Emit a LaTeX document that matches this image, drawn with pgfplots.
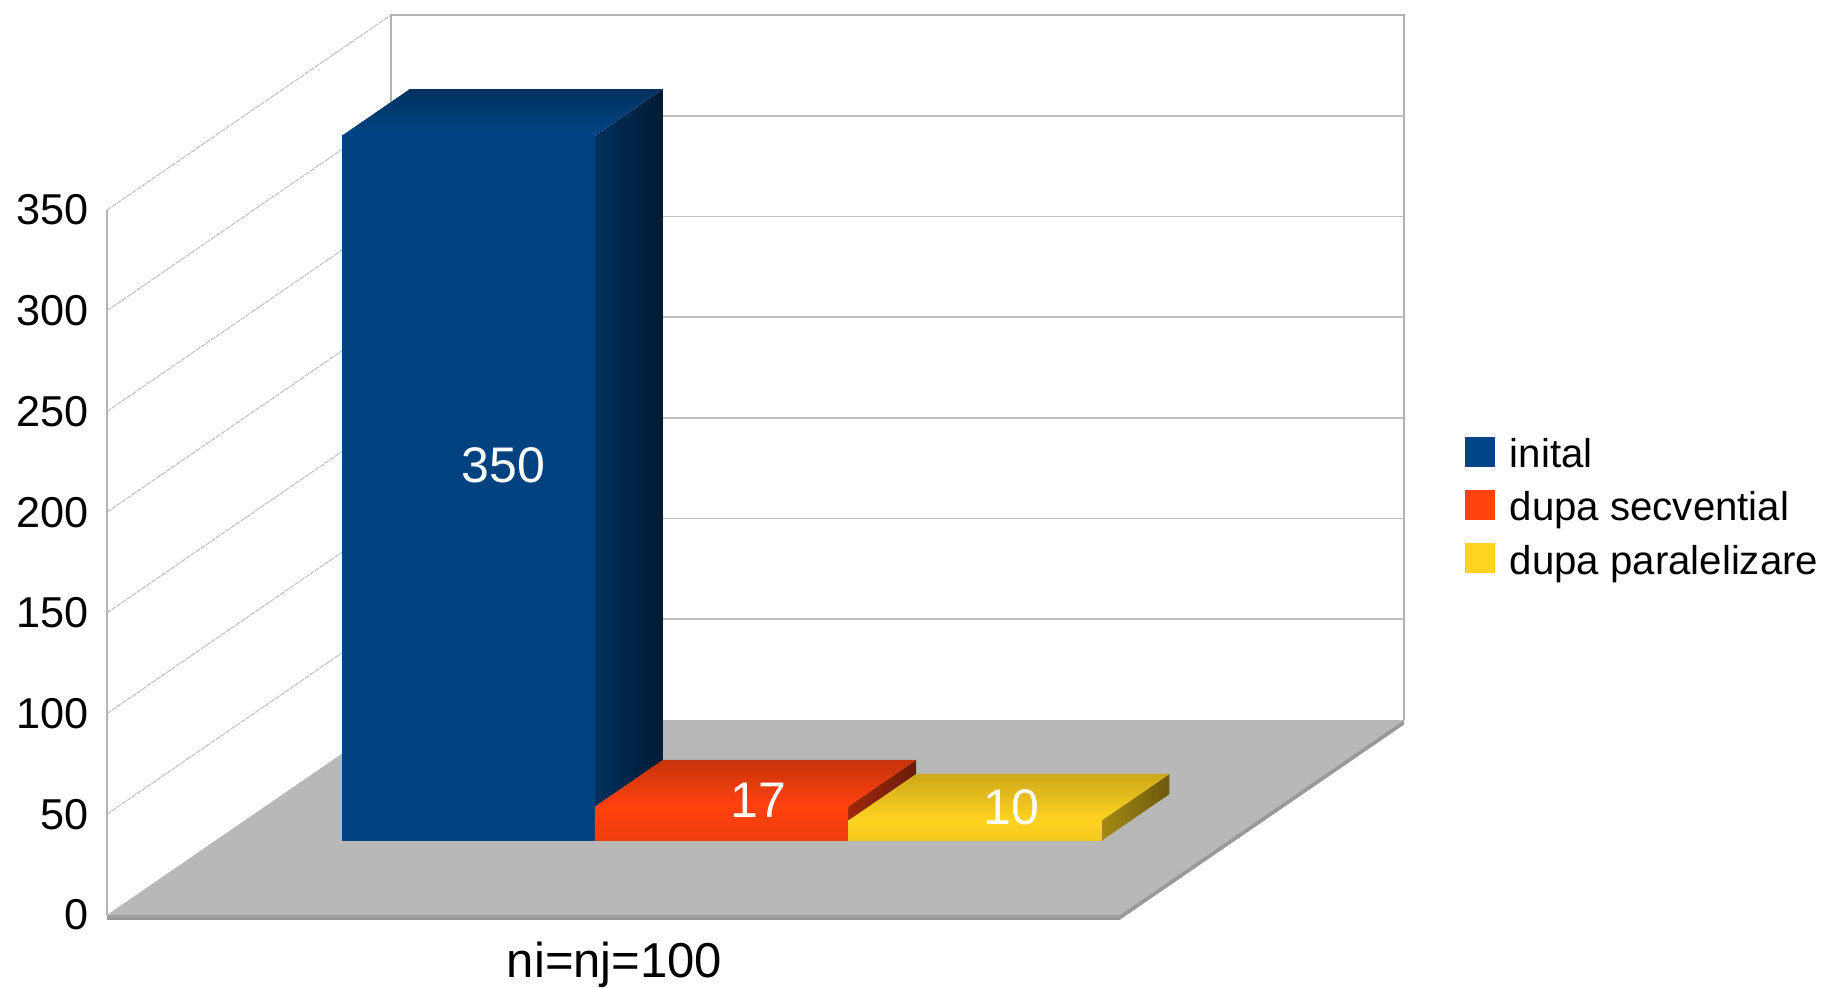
\documentclass[border=0pt]{standalone}
\usepackage{fontspec}
\setmainfont{Liberation Sans}
\usepackage{pgfplots}
\pgfplotsset{compat=1.18}
\definecolor{barblue}{HTML}{004586}
\definecolor{barred}{HTML}{FF420E}
\definecolor{baryellow}{HTML}{FFD320}
\definecolor{wallline}{HTML}{B3B3B3}
\definecolor{gridline}{HTML}{C0C0C0}
\definecolor{floorgray}{HTML}{B8B8B8}
\begin{document}
\begin{tikzpicture}
\useasboundingbox (0pt,0pt) rectangle (911.5pt,493.5pt);
\begin{axis}[
  at={(53.5pt,36pt)}, anchor=origin,
  x={(506.5pt,0pt)}, y={(142pt,97.5pt)}, z={(0pt,1.00714pt)},
  xmin=0, xmax=1, ymin=0, ymax=1, zmin=0, zmax=350,
  clip=false,
  axis line style={draw=none},
  tick style={draw=none},
  xtick={0.5}, xticklabels={ni=nj=100},
  ytick=\empty,
  ztick={0,50,100,150,200,250,300,350},
  zticklabel pos=left,
  z tick label style={font=\fontsize{21.6}{26}\selectfont, anchor=east, xshift=-5.5pt},
  x tick label style={font=\fontsize{24.5}{29}\selectfont, anchor=center, xshift=0.5pt, yshift=-25pt},
  /pgf/number format/assume math mode=true,
  every axis plot/.append style={no marks},
  legend style={at={(679pt,205.9pt)}, anchor=west, draw=none, fill=none,
    font=\fontsize{20.1}{24}\selectfont, row sep=6.5pt, inner sep=0pt,
    cells={anchor=west}},
  legend cell align=left,
]
\addlegendimage{legend image code/.code={\fill[barblue] (0pt,-5.6pt) rectangle (14.5pt,8.9pt); \path[draw=none] (0pt,0pt) -- (20pt,0pt);}}
\addlegendimage{legend image code/.code={\fill[barred] (0pt,-5.6pt) rectangle (14.5pt,8.9pt); \path[draw=none] (0pt,0pt) -- (20pt,0pt);}}
\addlegendimage{legend image code/.code={\fill[baryellow] (0pt,-5.6pt) rectangle (14.5pt,8.9pt); \path[draw=none] (0pt,0pt) -- (20pt,0pt);}}
\legend{inital,dupa secvential,dupa paralelizare}

% floor with its bevelled edges
\addplot3[fill=floorgray, draw=none, forget plot] coordinates {(0,0,0) (1,0,0) (1,1,0) (0,1,0)};
\addplot3[top color=gray!70, bottom color=gray!85, draw=none, forget plot] coordinates {(0,0,0) (1,0,0) (1,0,-2.3) (0,0,-2.3)};
\addplot3[fill=gray!80, draw=none, forget plot] coordinates {(1,0,0) (1,1,0) (1,1,-2.3) (1,0,-2.3)};

% left wall grid
\addplot3[gridline, line width=0.5pt, dash pattern=on 2.5pt off 0.5pt, forget plot] table[x=x,y=y,z=z] {
x y z
0 0 50
0 1 50

0 0 100
0 1 100

0 0 150
0 1 150

0 0 200
0 1 200

0 0 250
0 1 250

0 0 300
0 1 300

0 0 350
0 1 350
};
% back wall grid
\addplot3[gridline, line width=0.8pt, forget plot] table[x=x,y=y,z=z] {
x y z
0 1 50
1 1 50

0 1 100
1 1 100

0 1 150
1 1 150

0 1 200
1 1 200

0 1 250
1 1 250

0 1 300
1 1 300
};
% wall edges
\addplot3[wallline, line width=1pt, forget plot] coordinates {(0,0,0) (0,0,350)};
\addplot3[wallline, line width=1pt, forget plot] coordinates {(0,1,0) (0,1,350) (1,1,350) (1,1,0)};

% inital = 350
\addplot3[left color=barblue!70!black, right color=barblue!38!black, draw=none, forget plot] coordinates {(0.375,0.38,0) (0.375,0.62,0) (0.375,0.62,350) (0.375,0.38,350)};
\addplot3[top color=barblue!72!black, bottom color=barblue, draw=none, forget plot] coordinates {(0.125,0.38,350) (0.375,0.38,350) (0.375,0.62,350) (0.125,0.62,350)};
\addplot3[fill=barblue!95!black, draw=none, forget plot] coordinates {(0.125,0.38,0) (0.375,0.38,0) (0.375,0.38,350) (0.125,0.38,350)};
% dupa secvential = 17
\addplot3[left color=barred!62!black, right color=barred!42!black, draw=none, forget plot] coordinates {(0.625,0.38,0) (0.625,0.62,0) (0.625,0.62,17) (0.625,0.38,17)};
\addplot3[top color=barred!78!black, bottom color=barred, draw=none, forget plot] coordinates {(0.375,0.38,17) (0.625,0.38,17) (0.625,0.62,17) (0.375,0.62,17)};
\addplot3[top color=barred, bottom color=barred!94!black, draw=none, forget plot] coordinates {(0.375,0.38,0) (0.625,0.38,0) (0.625,0.38,17) (0.375,0.38,17)};
% dupa paralelizare = 10
\addplot3[left color=baryellow!65!black, right color=baryellow!42!black, draw=none, forget plot] coordinates {(0.875,0.38,0) (0.875,0.62,0) (0.875,0.62,10) (0.875,0.38,10)};
\addplot3[top color=baryellow!80!black, bottom color=baryellow, draw=none, forget plot] coordinates {(0.625,0.38,10) (0.875,0.38,10) (0.875,0.62,10) (0.625,0.62,10)};
\addplot3[top color=baryellow, bottom color=baryellow!95!black, draw=none, forget plot] coordinates {(0.625,0.38,0) (0.875,0.38,0) (0.875,0.38,10) (0.625,0.38,10)};

% value labels
\node[text=white, font=\fontsize{25}{30}\selectfont, xshift=0.5pt] at (axis cs:0.25,0.5,175) {350};
\node[text=white, font=\fontsize{25}{30}\selectfont, xshift=1.5pt] at (axis cs:0.5,0.5,8.5) {17};
\node[text=white, font=\fontsize{25}{30}\selectfont, xshift=1.2pt] at (axis cs:0.75,0.5,5) {10};
\end{axis}
\end{tikzpicture}
\end{document}
